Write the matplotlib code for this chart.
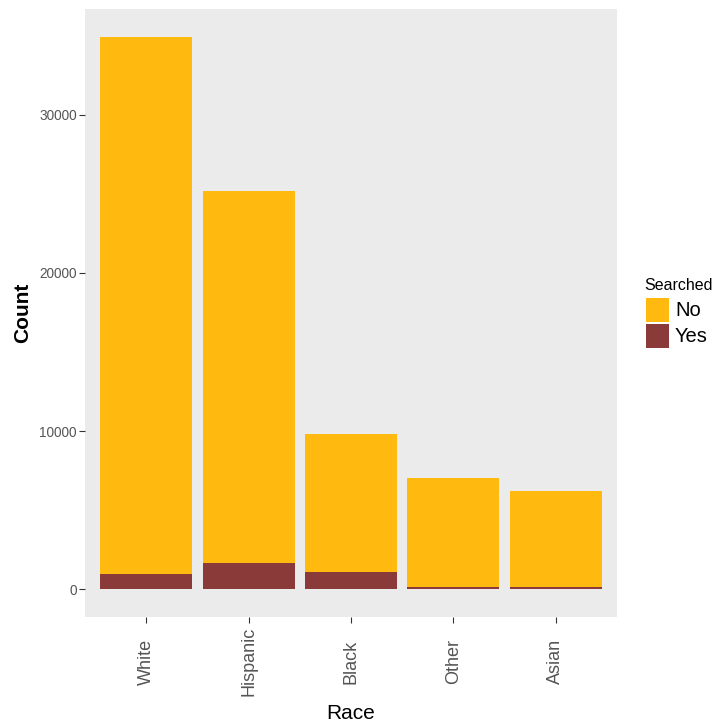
import matplotlib
matplotlib.use('Agg')
import matplotlib.pyplot as plt
from matplotlib.patches import Rectangle
import numpy as np

plt.rcParams['font.family'] = ['Liberation Sans', 'DejaVu Sans']

races = ["White", "Hispanic", "Black", "Other", "Asian"]
searched_no = [33950, 23560, 8780, 6850, 6040]
searched_yes = [990, 1640, 1070, 160, 150]

col_no = '#FFB90F'
col_yes = '#8B3A3A'

W, H = 718, 726
fig = plt.figure(figsize=(W / 100, H / 100), dpi=100)
fig.patch.set_facecolor('white')

# panel in pixels: x 85..617, y 9..617
ax = fig.add_axes([85 / W, (H - 617) / H, 532 / W, 608 / H])
ax.set_facecolor('#EBEBEB')

x = np.arange(len(races))
ax.bar(x, searched_yes, width=0.9, color=col_yes, linewidth=0)
ax.bar(x, searched_no, width=0.9, bottom=searched_yes, color=col_no, linewidth=0)

total = np.array(searched_no) + np.array(searched_yes)
ymax = total.max()
ax.set_ylim(-0.05 * ymax, 1.05 * ymax)
ax.set_xlim(-0.6, len(races) - 0.4)

ax.set_yticks([0, 10000, 20000, 30000])
ax.set_xticks(x)
ax.set_xticklabels(races, rotation=90, fontsize=13, color='#555555', va='center')
ax.tick_params(axis='y', labelsize=9.8, labelcolor='#555555', color='#333333',
               length=4, width=0.8, pad=2)
# labels are centred vertically about 43 px below the panel
ax.tick_params(axis='x', color='#333333', length=4, width=0.8, pad=28)
for s in ax.spines.values():
    s.set_visible(False)

ax.set_xlabel("Race", fontsize=15, labelpad=6)
ax.set_ylabel("Count", fontsize=15, fontweight='bold', labelpad=5)

# legend
fig.text(644 / W, 1 - 285 / H, "Searched", fontsize=11.5, va='center', ha='left')
for i, (lab, c) in enumerate([("No", col_no), ("Yes", col_yes)]):
    top = 298 + i * 26
    fig.add_artist(Rectangle((646 / W, 1 - (top + 24) / H), 23 / W, 24 / H,
                             transform=fig.transFigure, facecolor=c, edgecolor='none'))
    fig.text(675 / W, 1 - (top + 12) / H, lab, fontsize=14.5, va='center', ha='left')

fig.savefig('out.png', dpi=100, facecolor='white')
